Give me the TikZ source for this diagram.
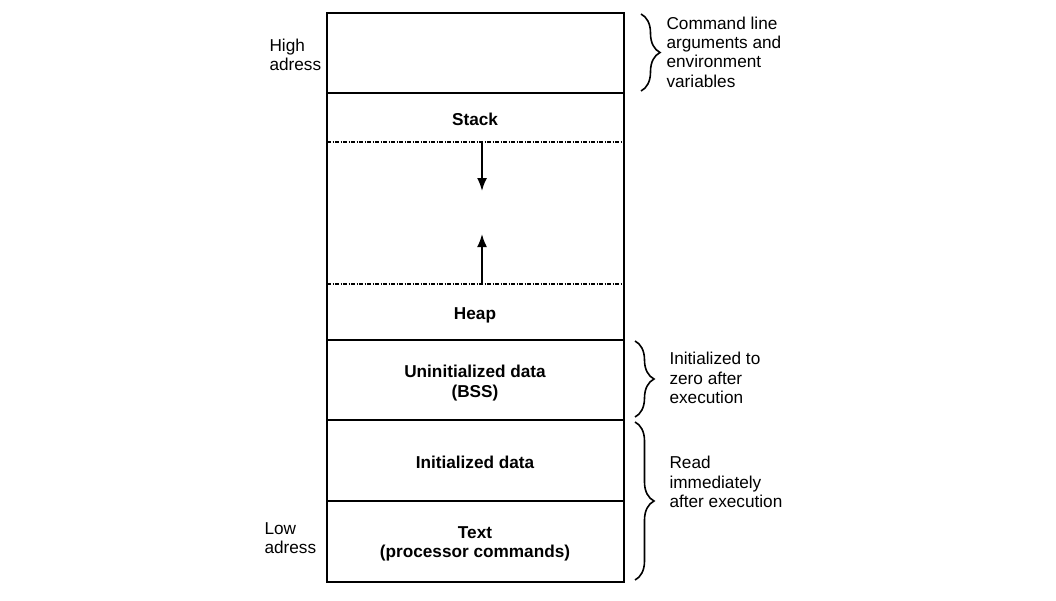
\documentclass[tikz,border=0pt]{standalone}
\usepackage{fontspec}
\setmainfont{Liberation Sans}
\usetikzlibrary{decorations.pathreplacing,arrows.meta}
\begin{document}
\begin{tikzpicture}[x=1pt,y=-1pt,
  seg/.style={draw=black,line width=1.4pt},
  dd/.style={draw=black,line width=1.1pt,dash pattern=on 4pt off 1.5pt on 1pt off 1.5pt},
  lbl/.style={font=\fontsize{17.2}{19.5}\selectfont\bfseries,align=center},
  side/.style={font=\fontsize{17.2}{19.3}\selectfont,align=left,anchor=west},
  brc/.style={draw=black,line width=1.6pt,decorate,decoration={brace,amplitude=19pt,aspect=0.5}},
  arr/.style={draw=black,line width=1.8pt,-{Latex[length=13pt,width=10pt]}}]
\useasboundingbox (0,0) rectangle (1056,600);
% main box
\draw[seg] (327,13) rectangle (624,582);
\draw[seg] (327,93) -- (624,93);
\draw[dd] (327,142) -- (624,142);
\draw[dd] (327,284) -- (624,284);
\draw[seg] (327,340) -- (624,340);
\draw[seg] (327,420) -- (624,420);
\draw[seg] (327,501) -- (624,501);
% labels
\node[lbl] (stack) at (475,119) {Stack};
\node[lbl] (heap) at (475,315) {Heap};
\node[lbl] (bss) at (475,383) {Uninitialized data\\(BSS)};
\node[lbl] (init) at (475,462) {Initialized data};
\node[lbl] (text) at (475,544) {Text\\(processor commands)};
% arrows
\coordinate (d0) at (482,142);
\coordinate (d1) at (482,191);
\coordinate (u0) at (482,284);
\coordinate (u1) at (482,234);
\draw[arr] (d0) -- (d1);
\draw[arr] (u0) -- (u1);
% braces
\draw[brc] (641,14) -- (641,91);
\draw[brc] (635,341) -- (635,417);
\draw[brc] (635,422) -- (635,580);
% side texts
\node[side] (cmd) at (663,52) {Command line\\arguments and\\environment\\variables};
\node[side] (zero) at (666,378) {Initialized to\\zero after\\execution};
\node[side] (read) at (666,482) {Read\\immediately\\after execution};
\node[side] (high) at (266,55) {High\\adress};
\node[side] (low) at (261,538) {Low\\adress};
\end{tikzpicture}
\end{document}
